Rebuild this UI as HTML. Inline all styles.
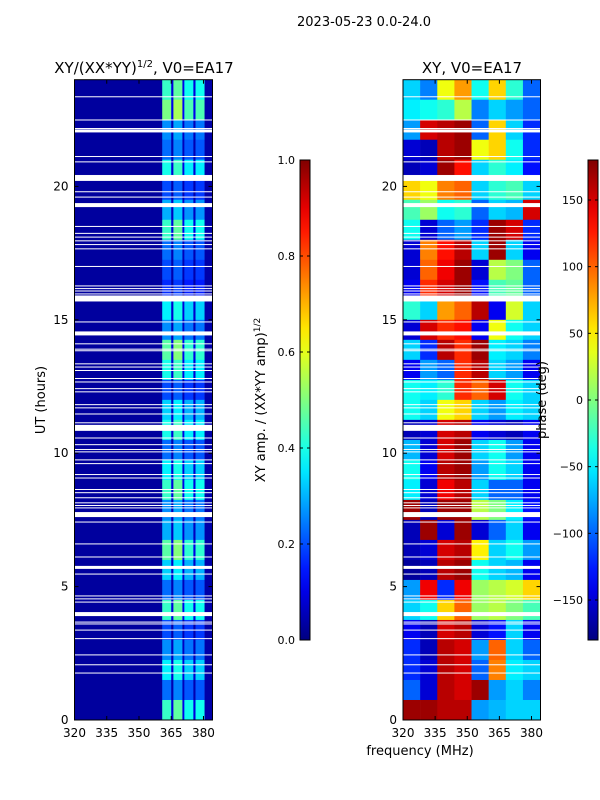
<!DOCTYPE html>
<html><head><meta charset="utf-8"><style>
body{margin:0;background:#fff;width:600px;height:800px;overflow:hidden}
svg{display:block;font-family:"DejaVu Sans","Liberation Sans",sans-serif}
</style></head><body>
<svg id="fig" width="600" height="800">
<text x="364" y="26" font-size="13" text-anchor="middle">2023-05-23 0.0-24.0</text>
<text x="144" y="73" font-size="15" text-anchor="middle">XY/(XX*YY)<tspan font-size="10" dy="-6">1/2</tspan><tspan dy="6">, V0=EA17</tspan></text>
<text x="472" y="73" font-size="15" text-anchor="middle">XY, V0=EA17</text>
<text x="45" y="400" font-size="13" text-anchor="middle" transform="rotate(-90 45 400)">UT (hours)</text>
<text x="420" y="755" font-size="13" text-anchor="middle">frequency (MHz)</text>
<text x="265" y="400" font-size="13" text-anchor="middle" transform="rotate(-90 265 400)">XY amp. / (XX*YY amp)<tspan font-size="9" dy="-5">1/2</tspan></text>
<g id="left"></g>
<g id="right"></g>
<g id="cb"></g>
<text x="546" y="400" font-size="13" text-anchor="middle" transform="rotate(-90 546 400)">phase (deg)</text>
</svg>
<script>
const freqTicks=[320,335,350,365,380];
const utTicks=[0,5,10,15,20];
const ampTicks=[0.0,0.2,0.4,0.6,0.8,1.0];
const phaseTicks=[-150,-100,-50,0,50,100,150];
const leftFreqEdges=[320,360.8,365,366,370.2,371.1,375.3,376.3,380.5,384.2];
const leftColAmp=[0.03,0.33,0.07,0.36,0.08,0.3,0.07,0.3,0.04];
const leftRowAmp=[1.3,1.5,0.8,0.7,1.2,0.6,0.9,1.3,0.7,0.6,0.5,1.1,0.8,1.4,1.2,0.6,1.0,1.2,0.7,1.1,1.3,0.8,0.9,1.4,1.0,0.7,1.3,0.6,0.8,1.1,0.7,1.3];
const phaseFreqEdges=[320,328,336,344,352,360,368,376,384.2];
const phaseRows=[
[-60,-90,40,80,-40,60,-30,-100],[-50,-40,-30,20,-90,-60,-80,-100],[-80,150,160,170,-100,60,-60,-120],[-150,-160,160,170,40,60,-40,-120],
[-160,-150,170,130,-60,-30,-50,-130],[60,40,90,100,-60,-30,-20,-60],[-20,10,-40,-30,-100,-60,-70,150],[-40,-150,-100,-80,-120,170,150,-120],
[-150,90,130,160,-60,170,-60,-140],[-150,100,140,170,-150,20,0,-100],[-140,120,150,170,-130,-20,-10,-100],[-30,-60,80,100,160,-140,30,-60],
[-150,150,120,130,-140,40,-40,-60],[-60,-120,160,120,170,-50,-60,-90],[-140,-80,-100,120,160,-60,-80,-140],[-40,-50,-30,120,100,150,-40,-60],
[-40,-60,40,60,-60,-80,-50,-60],[-160,-150,150,160,-140,-150,-160,-140],[-70,-150,150,170,-60,-40,-80,-140],[-40,-140,160,170,-80,-40,-60,-140],
[-50,-150,140,160,-60,-100,-100,-140],[170,-160,170,170,20,0,-50,-130],[-160,170,-150,170,-150,-100,-60,-140],[-160,-150,150,160,50,-60,-40,-80],
[-170,-160,160,170,-40,-60,-70,-140],[-80,140,-120,140,10,20,30,60],[-60,-40,60,100,10,20,0,-20],[-140,-160,150,160,-150,-130,-60,-140],
[-120,-160,160,150,-80,100,-60,-100],[-120,-150,160,150,-100,90,-50,-60],[-100,-150,160,150,170,-80,-60,-90],[170,170,160,160,-80,-70,-60,-60]];
const gapUT=[23.36,22.49,22.17,22.08,21.12,20.92,20.41,20.3,19.8,19.6,19.3,18.5,18.24,18.1,17.96,17.82,17.66,17.0,16.27,16.17,16.08,15.97,15.8,14.92,14.49,14.1,13.9,13.84,13.35,13.23,13.1,12.8,12.67,12.42,12.3,
11.82,11.7,11.47,11.14,10.95,10.57,10.32,10.14,10.05,9.75,9.61,9.2,9.07,8.64,8.52,8.33,8.14,8.04,7.95,7.7,7.42,6.6,6.11,5.72,5.47,4.65,4.54,4.42,3.97,3.67,3.6,3.37,3.05,2.44,2.07,1.76];
const gapWidth=[1,1,1,3,1,1,1,5,1,1,4,1,1,1,1,1,1,1,1,1,1,1,6,1,4,1,1,1,1,1,1,1,1,1,1,
1,1,1,1,6,1,1,1,1,1,1,1,1,1,1,1,1,1,1,5,1,1,1,3,1,1,1,1,4,1,1,1,1,1,1,1];

const NS='http://www.w3.org/2000/svg';
function jet(v){v=Math.max(0,Math.min(1,v));const c=x=>Math.round(255*Math.max(0,Math.min(1,1.5-Math.abs(4*v-x))));return `rgb(${c(3)},${c(2)},${c(1)})`;}
function mk(p,t,a){const e=document.createElementNS(NS,t);for(const k in a)e.setAttribute(k,a[k]);p.appendChild(e);return e;}
const Y0=720,Y1=79.7,UTMAX=24;
const yS=u=>Y0-(Y0-Y1)*u/UTMAX;
function xS(x0,x1){return f=>x0+(x1-x0)*(f-320)/(384.2-320);}
const L={x0:74.5,x1:212.5},R={x0:403,x1:540.5};
const xl=xS(L.x0,L.x1),xr=xS(R.x0,R.x1);
const gL=document.getElementById('left'),gR=document.getElementById('right'),gC=document.getElementById('cb');
const nRows=leftRowAmp.length,rowH=UTMAX/nRows;
for(let r=0;r<nRows;r++){
 const uTop=UTMAX-r*rowH,uBot=uTop-rowH;
 for(let c=0;c<leftColAmp.length;c++){
  const e=mk(gL,'rect',{x:xl(leftFreqEdges[c]),y:yS(uTop),width:xl(leftFreqEdges[c+1])-xl(leftFreqEdges[c])+0.3,height:yS(uBot)-yS(uTop)+0.3,fill:jet(leftColAmp[c]*(c===0||c===8?1:leftRowAmp[r]))});
  
  
 }
}
const pRowH=UTMAX/phaseRows.length;
phaseRows.forEach((row,r)=>{
 const uTop=UTMAX-r*pRowH,uBot=uTop-pRowH;
 row.forEach((p,c)=>{
  const e=mk(gR,'rect',{x:xr(phaseFreqEdges[c]),y:yS(uTop),width:xr(phaseFreqEdges[c+1])-xr(phaseFreqEdges[c])+0.3,height:yS(uBot)-yS(uTop)+0.3,fill:jet((p+180)/360)});
  
  
 });
});
gapUT.forEach((u,i)=>{
 [[gL,L],[gR,R]].forEach(([g,P])=>{
  const e=mk(g,'rect',{x:P.x0,y:yS(u)-gapWidth[i]/2,width:P.x1-P.x0,height:gapWidth[i],fill:'#fff'});
  
  
 });
});
function axes(g,P,xs){
 mk(g,'rect',{x:P.x0,y:Y1,width:P.x1-P.x0,height:Y0-Y1,fill:'none',stroke:'#000','stroke-width':1});
 freqTicks.forEach(f=>{const x=xs(f);
  mk(g,'line',{x1:x,x2:x,y1:Y0,y2:Y0-4,stroke:'#000'});
  mk(g,'line',{x1:x,x2:x,y1:Y1,y2:Y1+4,stroke:'#000'});
  const t=mk(g,'text',{x:x,y:Y0+17,'font-size':12,'text-anchor':'middle'});t.textContent=f;
  
  });
 utTicks.forEach(u=>{const y=yS(u);
  mk(g,'line',{x1:P.x0,x2:P.x0+4,y1:y,y2:y,stroke:'#000'});
  mk(g,'line',{x1:P.x1,x2:P.x1-4,y1:y,y2:y,stroke:'#000'});
  const t=mk(g,'text',{x:P.x0-6,y:y+4,'font-size':12,'text-anchor':'end'});t.textContent=u;
  
  });
}
axes(gL,L,xl);axes(gR,R,xr);
const defs=mk(document.getElementById('fig'),'defs',{});
const lg=mk(defs,'linearGradient',{id:'jetg',x1:0,y1:1,x2:0,y2:0});
for(let i=0;i<=20;i++)mk(lg,'stop',{offset:i/20,'stop-color':jet(i/20)});
const CBY0=640,CBY1=160;
function cbar(x,ticks,lo,hi,name){
 const e=mk(gC,'rect',{x:x,y:CBY1,width:10,height:CBY0-CBY1,fill:'url(#jetg)',stroke:'#000','stroke-width':1});
 
 
 ticks.forEach(v=>{const y=CBY0-(CBY0-CBY1)*(v-lo)/(hi-lo);
  mk(gC,'line',{x1:x,x2:x+3,y1:y,y2:y,stroke:'#000'});mk(gC,'line',{x1:x+10,x2:x+7,y1:y,y2:y,stroke:'#000'});
  const t=mk(gC,'text',{x:x-5,y:y+4,'font-size':11,'text-anchor':'end'});t.textContent=(lo===0?v.toFixed(1):String(v).replace('-','\u2212'));
  
  });
}
cbar(300,ampTicks,0,1,'amp-colorbar');
cbar(588,phaseTicks,-180,180,'phase-colorbar');
</script>
</body></html>
